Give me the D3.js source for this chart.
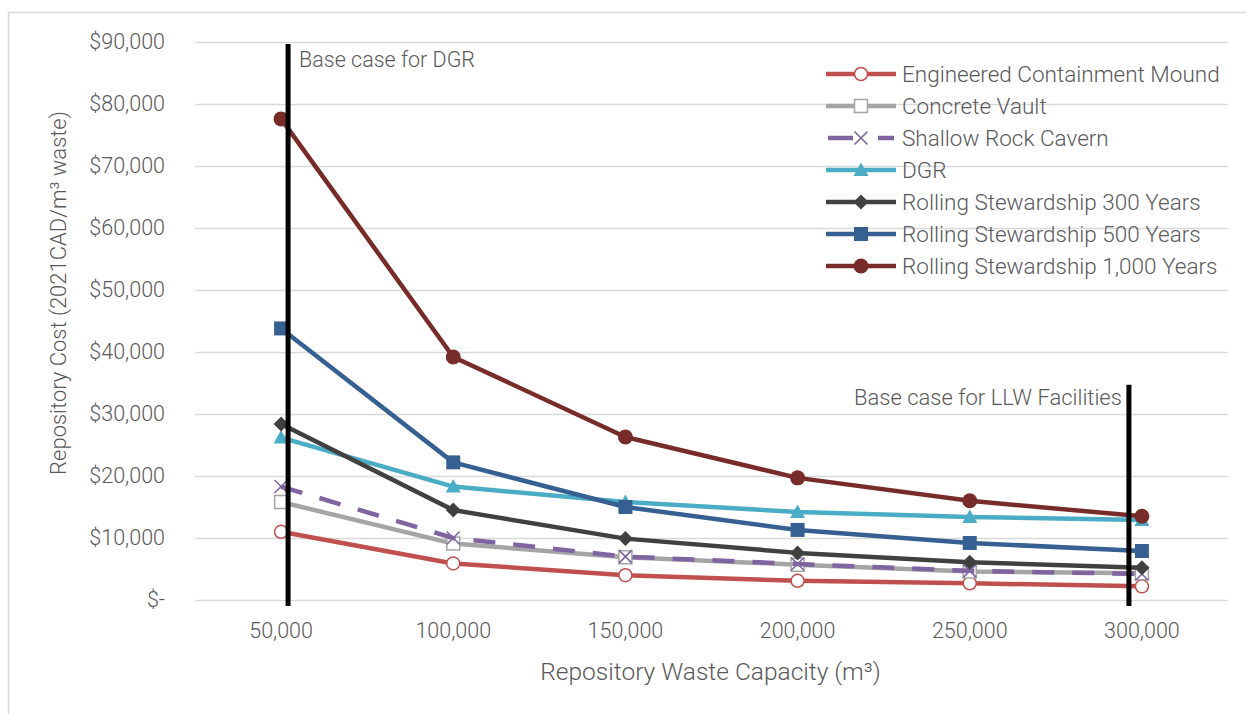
<!DOCTYPE html>
<html>
<head>
<meta charset="utf-8">
<script src="https://cdn.jsdelivr.net/npm/d3@7/dist/d3.min.js"></script>
<style>
  html, body { margin: 0; padding: 0; background: #fff; }
  svg { display: block; }
  text { font-family: Roboto, "Liberation Sans", sans-serif; font-weight: 300; fill: #595959; }
</style>
</head>
<body>
<svg id="chart" width="1246" height="714"></svg>
<script>
// ---- Data ----
const categories = ["50,000", "100,000", "150,000", "200,000", "250,000", "300,000"];
const yTickValues = [0, 10000, 20000, 30000, 40000, 50000, 60000, 70000, 80000, 90000];

const seriesNames = [
  "Engineered Containment Mound",
  "Concrete Vault",
  "Shallow Rock Cavern",
  "DGR",
  "Rolling Stewardship 300 Years",
  "Rolling Stewardship 500 Years",
  "Rolling Stewardship 1,000 Years"
];
const engineeredMound = [11000, 5900, 4000, 3100, 2700, 2200];
const concreteVault   = [15800, 9100, 6900, 5700, 4600, 4300];
const shallowRock     = [18300, 10000, 7000, 5800, 4700, 4200];
const dgr             = [26200, 18300, 15800, 14200, 13400, 12900];
const rolling300      = [28400, 14500, 9900, 7600, 6100, 5200];
const rolling500      = [43800, 22200, 15000, 11300, 9200, 7900];
const rolling1000     = [77600, 39200, 26300, 19700, 16000, 13500];

const seriesColors = ["#C0504D", "#A5A5A5", "#8064A2", "#4BACC6", "#404040", "#366092", "#772C2A"];
const seriesMarkers = ["circleOpen", "squareOpen", "x", "triangle", "diamond", "square", "circle"];

const annotations = [
  { label: "Base case for DGR", category: "50,000" },
  { label: "Base case for LLW Facilities", category: "300,000" }
];

// ---- Layout ----
const svg = d3.select("#chart");
const W = 1246, H = 714;
const plot = { left: 195, right: 1228, top: 42, bottom: 600 };

svg.append("rect")
  .attr("x", 8.5).attr("y", 12.5).attr("width", W + 10).attr("height", H + 10)
  .attr("fill", "#fff").attr("stroke", "#D9D9D9").attr("stroke-width", 1.5);

const x = d3.scaleBand().domain(categories).range([plot.left, plot.right]).padding(0);
const y = d3.scaleLinear().domain([0, 90000]).range([plot.bottom, plot.top]);
const cx = c => x(c) + x.bandwidth() / 2;

// Gridlines + y axis
const yAxis = d3.axisLeft(y)
  .tickValues(yTickValues)
  .tickSize(-(plot.right - plot.left))
  .tickPadding(30)
  .tickFormat(v => v === 0 ? "$-" : "$" + d3.format(",")(v));
const gy = svg.append("g").attr("transform", `translate(${plot.left},0)`).call(yAxis);
gy.select(".domain").remove();
gy.selectAll("line").attr("stroke", "#D9D9D9").attr("stroke-width", 1.5);
gy.selectAll("text").attr("font-size", 21.5).style("font-family", "Roboto, sans-serif").style("font-weight", 300).attr("fill", "#595959");

// x axis labels
const xAxis = d3.axisBottom(x).tickSize(0).tickPadding(23);
const gx = svg.append("g").attr("transform", `translate(0,${plot.bottom})`).call(xAxis);
gx.select(".domain").remove();
gx.selectAll("text").attr("font-size", 21.5).style("font-family", "Roboto, sans-serif").style("font-weight", 300).attr("fill", "#595959");

// Axis titles
svg.append("text")
  .attr("x", (plot.left + plot.right) / 2 - 1).attr("y", 680)
  .attr("text-anchor", "middle").attr("font-size", 24.5)
  .text("Repository Waste Capacity (m³)");
svg.append("text")
  .attr("transform", "translate(66,293) rotate(-90)")
  .attr("text-anchor", "middle").attr("font-size", 22)
  .text("Repository Cost (2021CAD/m³ waste)");

// Markers
function markerPath(type, s) {
  const h = s / 2;
  switch (type) {
    case "triangle": return `M0,${-h}L${h},${h * 0.8}L${-h},${h * 0.8}Z`;
    case "diamond": return `M0,${-h}L${h},0L0,${h}L${-h},0Z`;
    case "square": case "squareOpen": return `M${-h},${-h}H${h}V${h}H${-h}Z`;
    case "x": return `M${-h},${-h}L${h},${h}M${h},${-h}L${-h},${h}`;
  }
}
function drawMarker(g, type, color, px, py) {
  if (type === "circle") {
    g.append("circle").attr("cx", px).attr("cy", py).attr("r", 7.5).attr("fill", color);
  } else if (type === "circleOpen") {
    g.append("circle").attr("cx", px).attr("cy", py).attr("r", 6.5)
      .attr("fill", "#fff").attr("stroke", color).attr("stroke-width", 1.5);
  } else if (type === "squareOpen") {
    g.append("path").attr("transform", `translate(${px},${py})`).attr("d", markerPath(type, 13))
      .attr("fill", "#fff").attr("stroke", color).attr("stroke-width", 1.5);
  } else if (type === "x") {
    g.append("path").attr("transform", `translate(${px},${py})`).attr("d", markerPath(type, 13))
      .attr("fill", "none").attr("stroke", color).attr("stroke-width", 1.6);
  } else {
    const s = type === "square" ? 14 : 15;
    g.append("path").attr("transform", `translate(${px},${py})`).attr("d", markerPath(type, s))
      .attr("fill", color);
  }
}

const allSeries = [engineeredMound, concreteVault, shallowRock, dgr, rolling300, rolling500, rolling1000];
const line = d3.line().x((d, i) => cx(categories[i])).y(d => y(d));

allSeries.forEach((vals, si) => {
  const g = svg.append("g");
  g.append("path").datum(vals)
    .attr("d", line)
    .attr("fill", "none")
    .attr("stroke", seriesColors[si])
    .attr("stroke-width", 4.5)
    .attr("stroke-linejoin", "round")
    .attr("stroke-dasharray", seriesMarkers[si] === "x" ? "22,18" : null);
  vals.forEach((v, i) => drawMarker(g, seriesMarkers[si], seriesColors[si], cx(categories[i]), y(v)));
});

// Legend
const legend = svg.append("g");
const legX = 826, legY0 = 74, legStep = 32;
seriesNames.forEach((name, si) => {
  const ly = legY0 + si * legStep;
  legend.append("line")
    .attr("x1", legX + (seriesMarkers[si] === "x" ? 2 : 0)).attr("x2", legX + 70).attr("y1", ly).attr("y2", ly)
    .attr("stroke", seriesColors[si]).attr("stroke-width", 4.5)
    .attr("stroke-dasharray", seriesMarkers[si] === "x" ? "25,25,16,100" : null);
  drawMarker(legend, seriesMarkers[si], seriesColors[si], legX + 35, ly);
  legend.append("text")
    .attr("x", legX + 76).attr("y", ly).attr("dy", "0.35em")
    .attr("font-size", 22.5)
    .text(name);
});

// Annotation lines
const ann0 = annotations[0], ann1 = annotations[1];
const a0x = cx(ann0.category) + 7;
const a1x = cx(ann1.category) - 13;
svg.append("line").attr("x1", a0x).attr("x2", a0x).attr("y1", y(90000) + 2).attr("y2", y(0) + 6)
  .attr("stroke", "#000").attr("stroke-width", 5);
svg.append("line").attr("x1", a1x).attr("x2", a1x).attr("y1", y(34700)).attr("y2", y(0) + 6)
  .attr("stroke", "#000").attr("stroke-width", 5);
svg.append("text").attr("x", a0x + 11).attr("y", 59).attr("dy", "0.35em")
  .attr("font-size", 21.5).text(ann0.label);
svg.append("text").attr("x", a1x - 7).attr("y", 397).attr("dy", "0.35em")
  .attr("text-anchor", "end").attr("font-size", 22).text(ann1.label);
</script>
</body>
</html>
